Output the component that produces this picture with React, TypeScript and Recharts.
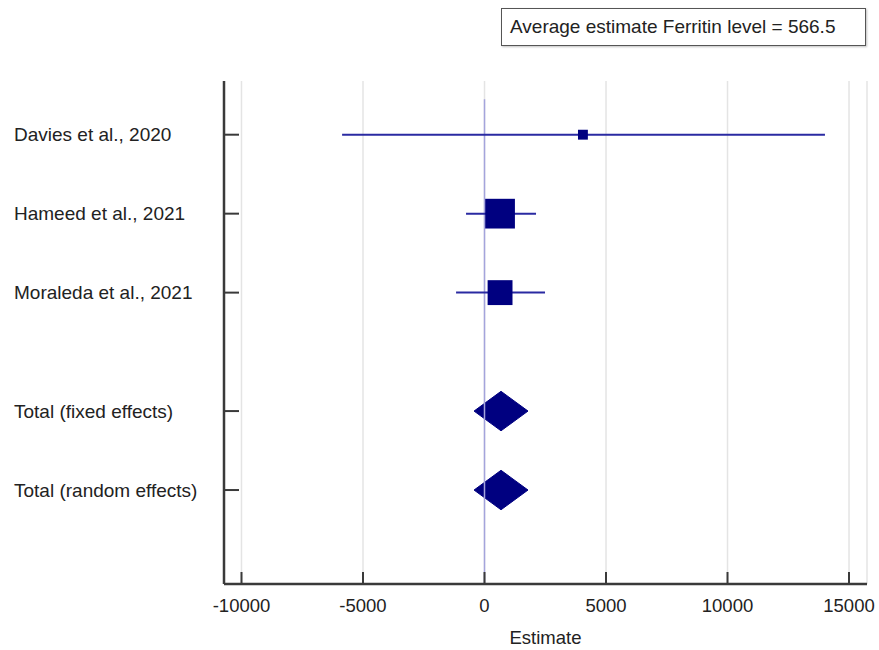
import React from 'react';
import {
  ScatterChart,
  Scatter,
  XAxis,
  YAxis,
  CartesianGrid,
  ErrorBar,
  ReferenceLine,
  ReferenceArea,
} from 'recharts';

// ---- data ----
const studyNames = ['Davies et al., 2020', 'Hameed et al., 2021', 'Moraleda et al., 2021'];
const studyRows = [1, 2, 3];
const studyEstimates = [4050, 640, 640];
const studyLower = [-5860, -760, -1170];
const studyUpper = [14010, 2120, 2490];
const studyWeights = [6.1, 55.2, 38.7];

const totalNames = ['Total (fixed effects)', 'Total (random effects)'];
const totalRows = [4.5, 5.5];
const totalEstimates = [680, 680];
const totalLower = [-430, -430];
const totalUpper = [1790, 1790];

const xTicks = [-10000, -5000, 0, 5000, 10000, 15000];
const xDomain = [-10720, 15740];
const yDomain = [0.32, 6.69];
const averageEstimate = 566.5;

const FONT = '"Liberation Sans", Arial, Helvetica, sans-serif';
const NAVY = '#000080';
const CI_BLUE = '#2a2aa2';

const studyData = studyNames.map((name, i) => ({
  name,
  x: studyEstimates[i],
  y: studyRows[i],
  weight: studyWeights[i],
  err: [studyEstimates[i] - studyLower[i], studyUpper[i] - studyEstimates[i]],
}));

const totalData = totalNames.map((name, i) => ({
  name,
  x: totalEstimates[i],
  y: totalRows[i],
  lo: totalLower[i],
  hi: totalUpper[i],
}));

const rowTicks = [...studyRows, ...totalRows];
const labelFor = (v: number) => {
  const i = studyRows.indexOf(v);
  if (i >= 0) return studyNames[i];
  const j = totalRows.indexOf(v);
  return j >= 0 ? totalNames[j] : '';
};

const YTick = (props: any) => (
  <text
    x={14}
    y={props.y}
    dy="0.35em"
    textAnchor="start"
    fontSize={19}
    fontFamily={FONT}
    fill="#222"
  >
    {labelFor(props.payload.value)}
  </text>
);

const SquareShape = (props: any) => {
  const { cx, cy, payload } = props;
  const s = Math.sqrt(payload.weight) * 4;
  return <rect x={cx - s / 2} y={cy - s / 2} width={s} height={s} fill={NAVY} />;
};

const NoShape = () => <g />;

const DiamondShape = (props: any) => {
  const { x, y, width, height } = props;
  const cx = x + width / 2;
  const cy = y + height / 2;
  const pts = `${x},${cy} ${cx},${y} ${x + width},${cy} ${cx},${y + height}`;
  return <polygon points={pts} fill={NAVY} stroke={NAVY} strokeWidth={1} />;
};

export default function App() {
  return (
    <div style={{ position: 'absolute', left: 0, top: 0, width: 879, height: 650, background: '#fff' }}>
      <ScatterChart
        width={879}
        height={650}
        margin={{ top: 81, right: 12, bottom: 0, left: 0 }}
      >
        <CartesianGrid horizontal={false} stroke="#e4e4e4" strokeWidth={1.5} />
        <XAxis
          type="number"
          dataKey="x"
          domain={xDomain}
          ticks={xTicks}
          allowDataOverflow
          height={66}
          tickSize={-12}
          tickMargin={27}
          axisLine={{ stroke: '#3a3a3a', strokeWidth: 2.5 }}
          tickLine={{ stroke: '#3a3a3a', strokeWidth: 2 }}
          tick={{ fontSize: 18.5, fontFamily: FONT, fill: '#222' }}
          label={{ value: 'Estimate', position: 'insideBottom', offset: 6, fontSize: 18.5, fontFamily: FONT, fill: '#222' }}
        />
        <YAxis
          type="number"
          dataKey="y"
          domain={yDomain}
          reversed
          ticks={rowTicks}
          allowDataOverflow
          width={224}
          tickSize={-15}
          axisLine={{ stroke: '#3a3a3a', strokeWidth: 2.5 }}
          tickLine={{ stroke: '#3a3a3a', strokeWidth: 2 }}
          tick={<YTick />}
        />
        <ReferenceLine
          segment={[{ x: 0, y: 0.55 }, { x: 0, y: yDomain[1] }]}
          stroke="#a4a4dc"
          strokeWidth={1.5}
        />
        <Scatter data={studyData} shape={<NoShape />} isAnimationActive={false}>
          <ErrorBar dataKey="err" direction="x" width={0} stroke={CI_BLUE} strokeWidth={2} isAnimationActive={false} />
        </Scatter>
        <Scatter data={studyData} shape={<SquareShape />} isAnimationActive={false} />
        {totalData.map((d) => (
          <ReferenceArea
            key={d.name}
            x1={d.lo}
            x2={d.hi}
            y1={d.y - 0.25}
            y2={d.y + 0.25}
            shape={<DiamondShape />}
          />
        ))}
      </ScatterChart>
      <div
        style={{
          position: 'absolute',
          left: 501,
          top: 8,
          width: 365,
          height: 38,
          boxSizing: 'border-box',
          border: '1.5px solid #555',
          boxShadow: '1px 1px 2px rgba(0,0,0,0.25)',
          display: 'flex',
          alignItems: 'center',
          paddingLeft: 8,
          fontFamily: FONT,
          fontSize: 19,
          color: '#222',
          background: '#fff',
        }}
      >
        {`Average estimate Ferritin level = ${averageEstimate}`}
      </div>
    </div>
  );
}
